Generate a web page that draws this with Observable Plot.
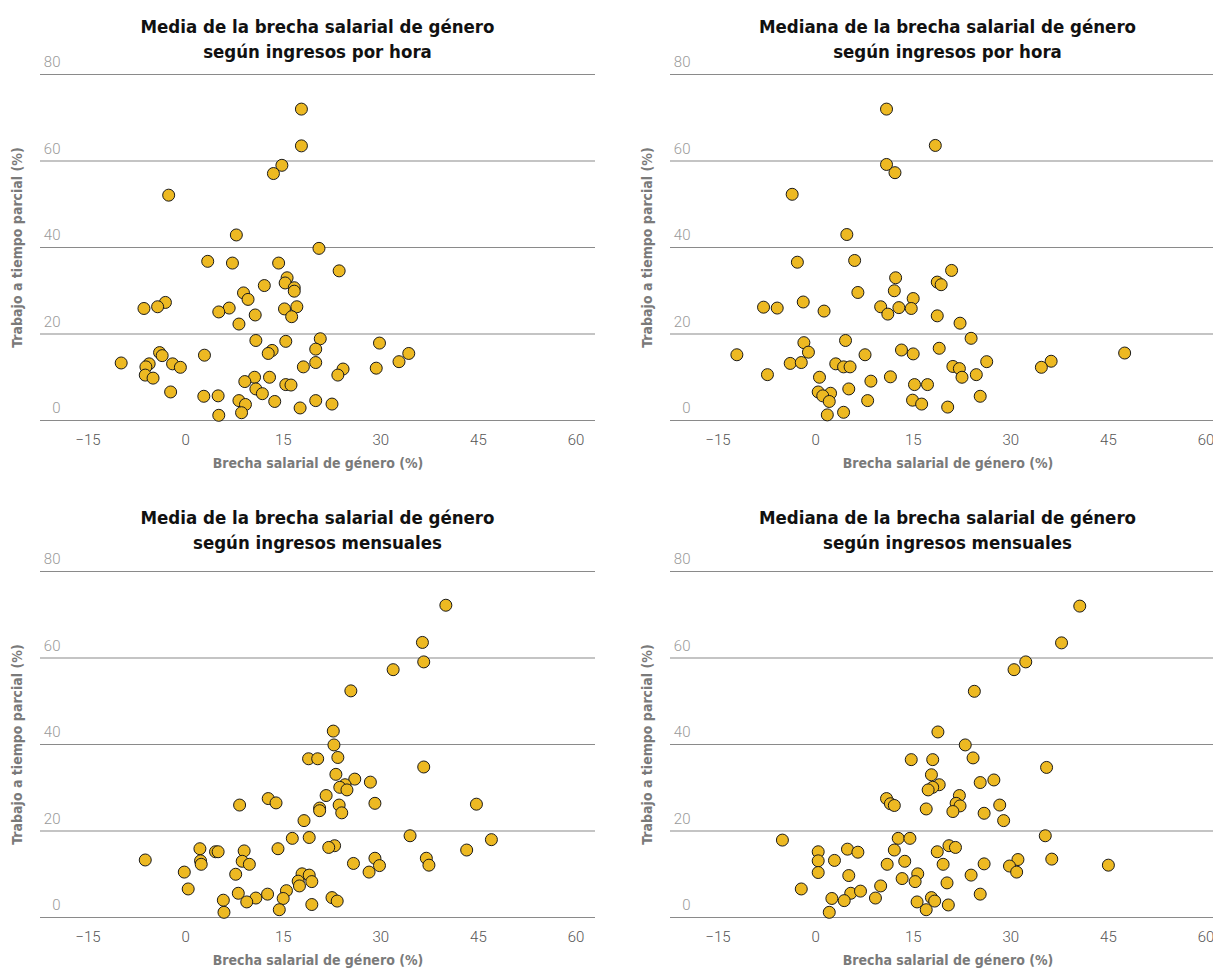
<!DOCTYPE html>
<html>
<head>
<meta charset="utf-8">
<script src="https://cdn.jsdelivr.net/npm/d3@7"></script>
<script src="https://cdn.jsdelivr.net/npm/@observablehq/plot@0.6"></script>
<style>
  html, body { margin: 0; padding: 0; background: #fff; overflow: hidden; }
  #wrap { position: relative; width: 1213px; height: 970px; overflow: hidden; }
  .title {
    position: absolute; width: 555px; text-align: center;
    font-family: "DejaVu Sans Condensed", "DejaVu Sans", sans-serif;
    font-stretch: condensed; font-weight: bold; font-size: 18.5px; line-height: 25px;
    color: #111;
  }
  .panel { position: absolute; width: 633px; height: 421px; }
  .panel svg { max-width: none !important; width: 633px; height: 421px; }
</style>
</head>
<body>
<div id="wrap"></div>
<script>
// ---- Data ----
const xTicks = [-15, 0, 15, 30, 45, 60];
const yTicks = [0, 20, 40, 60, 80];
const xLabel = "Brecha salarial de género (%)";
const yLabel = "Trabajo a tiempo parcial (%)";
const titles = [
  ["Media de la brecha salarial de género", "según ingresos por hora"],
  ["Mediana de la brecha salarial de género", "según ingresos por hora"],
  ["Media de la brecha salarial de género", "según ingresos mensuales"],
  ["Mediana de la brecha salarial de género", "según ingresos mensuales"]
];

// Panel 1: media, ingresos por hora
const mediaHoraX = [17.8,17.8,14.8,13.5,-2.6,7.8,20.5,3.4,7.2,14.3,23.6,15.6,15.3,12.1,16.7,16.7,8.9,9.6,-3.1,-6.4,-4.3,6.7,5.1,10.7,15.2,17.1,16.3,8.2,10.8,15.4,20.7,20.0,29.8,13.3,12.7,34.3,-4.0,-3.6,2.9,-9.9,-5.6,-6.1,-2.0,-0.8,32.8,20.0,18.1,24.2,29.3,23.4,-6.2,-5.0,10.6,12.9,9.1,15.4,16.2,10.8,11.8,-2.3,2.8,5.0,8.2,9.2,13.7,20.0,22.5,17.6,8.6,5.1];
const mediaHoraY = [72.0,63.5,59.0,57.1,52.1,42.9,39.8,36.8,36.4,36.4,34.6,33.0,31.8,31.2,30.7,29.9,29.5,28.0,27.3,25.9,26.3,26.0,25.1,24.4,25.8,26.3,24.0,22.3,18.5,18.3,18.9,16.5,17.9,16.2,15.5,15.5,15.7,15.0,15.1,13.3,13.1,12.4,13.1,12.3,13.6,13.4,12.4,11.9,12.1,10.5,10.5,9.8,10.0,10.0,9.0,8.3,8.2,7.3,6.2,6.6,5.6,5.7,4.6,3.7,4.4,4.6,3.8,2.9,1.8,1.2];

// Panel 2: mediana, ingresos por hora
const medianaHoraX = [10.9,18.4,10.9,12.2,-3.6,4.8,6.0,-2.8,20.9,12.3,18.7,19.3,12.1,6.5,-1.9,15.0,-8.0,-5.9,1.3,10.0,11.1,12.8,14.7,18.7,22.2,23.9,4.6,-1.8,-1.1,19.0,13.2,15.0,7.6,-12.1,47.5,36.2,34.7,26.3,-3.9,-2.2,3.1,4.3,5.3,21.1,22.1,24.7,22.5,-7.4,0.6,11.5,8.5,15.2,17.2,5.1,0.4,2.3,1.1,2.1,25.3,8.0,14.9,16.3,20.3,4.3,1.8];
const medianaHoraY = [72.0,63.6,59.2,57.3,52.3,43.0,37.0,36.6,34.7,33.0,32.0,31.4,30.0,29.6,27.4,28.2,26.2,26.0,25.3,26.3,24.6,26.1,25.9,24.2,22.5,19.0,18.5,18.0,15.8,16.7,16.3,15.4,15.2,15.2,15.6,13.7,12.3,13.6,13.2,13.4,13.1,12.4,12.4,12.5,12.0,10.6,10.0,10.6,10.0,10.1,9.1,8.3,8.3,7.3,6.6,6.3,5.7,4.4,5.6,4.6,4.7,3.8,3.1,1.9,1.3];

// Panel 3: media, ingresos mensuales
const mediaMesX = [40.0,36.4,36.6,31.9,25.4,22.7,22.8,23.4,18.9,20.3,36.6,23.1,26.0,28.4,24.5,23.7,24.8,21.6,12.7,13.9,8.3,29.1,44.7,23.6,20.6,20.6,24.0,18.2,16.4,19.0,34.5,47.0,22.9,22.0,14.2,2.2,4.6,5.0,9.0,43.2,-6.2,2.3,2.4,8.7,9.8,29.1,37.0,37.4,25.8,29.8,-0.2,7.7,28.2,17.9,19.0,19.4,17.3,17.5,0.4,8.1,12.6,15.5,10.8,15.0,9.4,5.8,22.5,23.3,19.4,14.4,5.9];
const mediaMesY = [72.2,63.6,59.1,57.3,52.4,43.1,39.9,37.0,36.7,36.7,34.8,33.1,32.0,31.3,30.7,30.1,29.5,28.2,27.5,26.5,26.0,26.4,26.2,26.0,25.3,24.7,24.2,22.4,18.3,18.5,18.9,18.0,16.6,16.2,15.9,15.9,15.2,15.2,15.4,15.6,13.3,13.1,12.3,13.0,12.3,13.7,13.7,12.1,12.5,12.0,10.5,10.0,10.5,10.1,9.8,8.3,8.4,7.3,6.6,5.6,5.4,6.2,4.5,4.4,3.6,4.0,4.6,3.8,3.0,1.8,1.2];

// Panel 4: mediana, ingresos mensuales
const medianaMesX = [40.6,37.8,32.3,30.5,24.4,18.8,23.0,24.2,14.7,18.0,35.5,17.8,27.4,25.3,19.0,18.0,17.3,22.1,10.9,11.5,12.1,28.3,21.6,22.2,25.9,17.0,21.1,28.9,35.3,12.7,14.5,-5.1,20.5,21.5,12.1,4.9,6.5,0.4,18.7,0.4,2.9,13.7,31.1,36.3,11.0,19.6,25.9,29.8,45.0,0.4,30.9,5.1,15.7,23.9,13.3,15.3,20.2,10.0,-2.2,5.4,6.9,25.3,9.2,2.5,4.4,17.8,15.6,18.3,20.4,17.0,2.1];
const medianaMesY = [72.0,63.5,59.1,57.3,52.3,42.9,39.9,36.9,36.5,36.5,34.7,33.0,31.8,31.2,30.7,30.1,29.5,28.2,27.5,26.3,25.9,26.0,26.4,25.8,24.1,25.1,24.5,22.4,18.9,18.3,18.3,17.9,16.6,16.2,15.6,15.8,15.1,15.2,15.2,13.1,13.2,13.0,13.4,13.5,12.3,12.3,12.4,11.9,12.1,10.4,10.5,9.7,10.1,9.8,9.0,8.3,8.0,7.3,6.6,5.6,6.1,5.4,4.5,4.4,3.9,4.6,3.6,3.8,2.9,1.8,1.2];

const series = [
  [mediaHoraX, mediaHoraY],
  [medianaHoraX, medianaHoraY],
  [mediaMesX, mediaMesY],
  [medianaMesX, medianaMesY]
];

// ---- Layout ----
const colLeft = [0, 630];
const titleTop = [14, 505];
const svgTop = [54, 551];
const labelFont = '"DejaVu Sans Condensed", "DejaVu Sans", sans-serif';
const tickFont = 'Roboto, "Liberation Sans", sans-serif';

const wrap = document.getElementById("wrap");

series.forEach(([xs, ys], i) => {
  const col = i % 2, row = Math.floor(i / 2);
  const data = xs.map((x, k) => ({x, y: ys[k]}));

  const t = document.createElement("div");
  t.className = "title";
  t.style.left = (colLeft[col] + 40) + "px";
  t.style.top = titleTop[row] + "px";
  t.innerHTML = titles[i][0] + "<br>" + titles[i][1];
  wrap.appendChild(t);

  const chart = Plot.plot({
    width: 633,
    height: 421,
    marginLeft: 40,
    marginRight: 38,
    marginTop: 20,
    marginBottom: 55,
    style: {background: "transparent", overflow: "visible"},
    x: {domain: [-22.3, 63]},
    y: {domain: [0, 80]},
    marks: [
      Plot.gridY(yTicks, {stroke: "#8a8a8a", strokeOpacity: 1, strokeWidth: 1.2}),
      Plot.axisY(yTicks, {anchor: "left", tickSize: 0, tickPadding: -20, dy: -12, label: null,
        color: "#9a9a9a", fontSize: 15, fontFamily: tickFont, fontWeight: 300}),
      Plot.axisX(xTicks, {anchor: "bottom", tickSize: 0, tickPadding: 14, label: null,
        color: "#555", fontSize: 15, fontFamily: tickFont, fontWeight: 300}),
      Plot.text([xLabel], {text: d => d, frameAnchor: "bottom", dy: 47,
        fill: "#7a7a7a", fontSize: 14, fontWeight: "bold", fontFamily: labelFont}),
      Plot.text([yLabel], {text: d => d, frameAnchor: "left", textAnchor: "middle", rotate: -90, dx: -23,
        fill: "#7a7a7a", fontSize: 14, fontWeight: "bold", fontFamily: labelFont}),
      Plot.dot(data, {x: "x", y: "y", r: 6, fill: "#EDB922", stroke: "#1a1a1a", strokeWidth: 1, fillOpacity: 1})
    ]
  });
  chart.style.maxWidth = "none";
  const holder = document.createElement("div");
  holder.className = "panel";
  holder.style.left = colLeft[col] + "px";
  holder.style.top = svgTop[row] + "px";
  holder.appendChild(chart);
  wrap.appendChild(holder);
});
</script>
</body>
</html>
